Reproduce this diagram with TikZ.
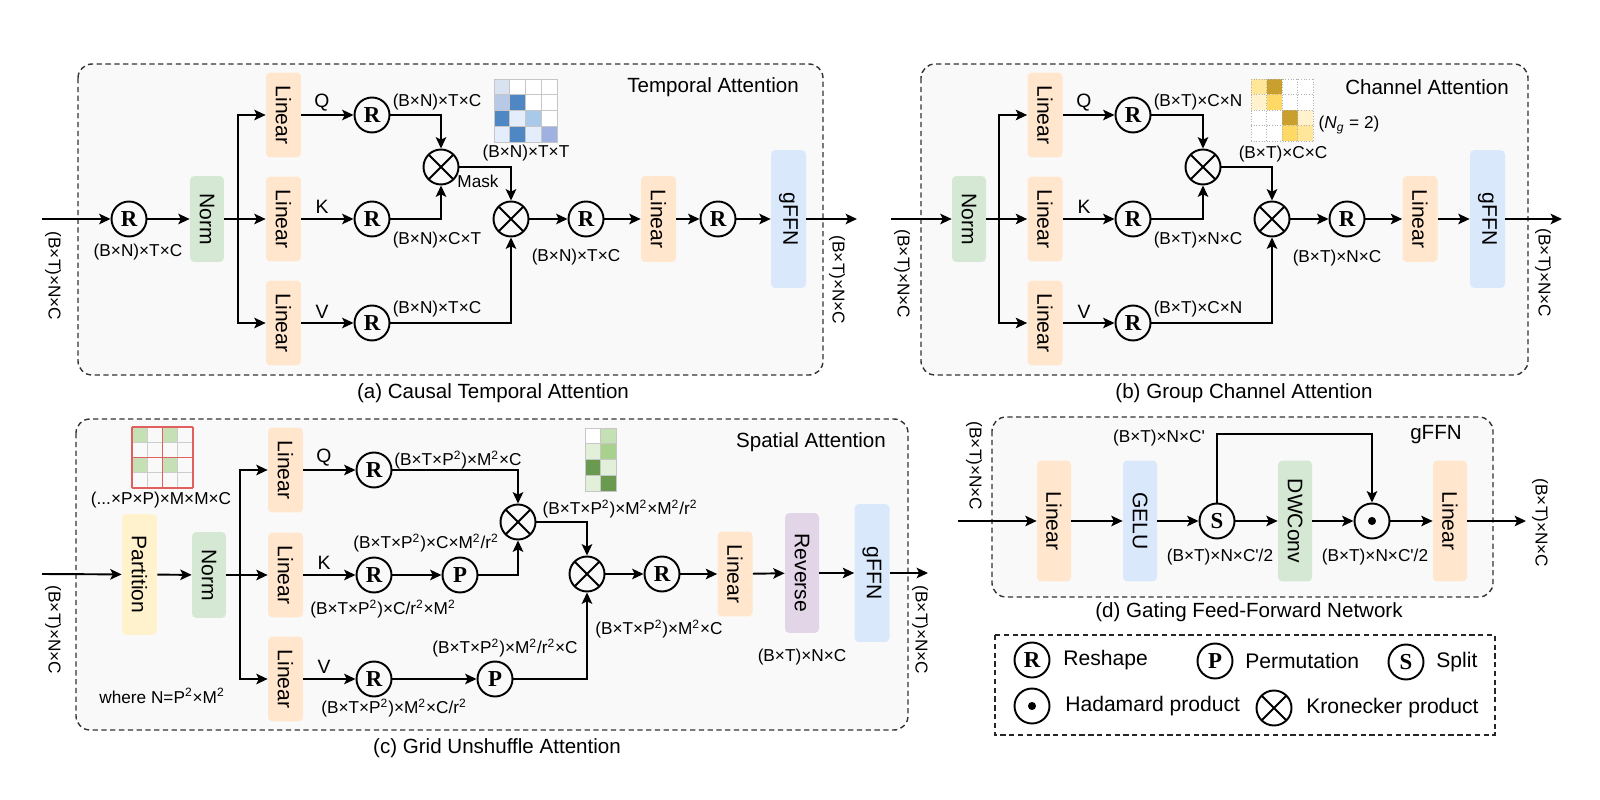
\documentclass[tikz,border=0pt]{standalone}
\usepackage{fontspec}
\setmainfont{Liberation Sans}
\newfontfamily\letterfont{Liberation Serif}
\usepackage{tikz}
\usepackage{xcolor}
\usepackage{graphicx}
\usetikzlibrary{arrows.meta}

\definecolor{linfill}{HTML}{FFE6CC}
\definecolor{normfill}{HTML}{D5E8D4}
\definecolor{ffnfill}{HTML}{DAE8FC}
\definecolor{partfill}{HTML}{FFF2CC}
\definecolor{revfill}{HTML}{E1D5E7}
\definecolor{panelfill}{HTML}{F9F9F9}
\definecolor{mA0}{HTML}{E3EDFB}
\definecolor{mA1}{HTML}{D9E2F1}
\definecolor{mA2}{HTML}{B8C9E8}
\definecolor{mA3}{HTML}{A8C9EA}
\definecolor{mA4}{HTML}{4F87C5}
\definecolor{mA5}{HTML}{9EB1E0}
\definecolor{yB0}{HTML}{FFE699}
\definecolor{yB1}{HTML}{C9A02D}
\definecolor{yB2}{HTML}{FFF2CC}
\definecolor{yB3}{HTML}{FFD966}
\definecolor{gC}{HTML}{C5E0B4}
\definecolor{gD0}{HTML}{E2F0D9}
\definecolor{gD1}{HTML}{C5E0B4}
\definecolor{gD2}{HTML}{A9D18E}
\definecolor{gD3}{HTML}{6A9A4F}
\definecolor{gridred}{HTML}{E06060}

\newcommand{\vt}[1]{\rotatebox{-90}{#1}}
\newcommand{\sq}{\textsuperscript{2}}

\tikzset{
	blk/.style={rectangle, rounded corners=2.5pt, inner sep=0pt, font=\fontsize{12}{14}\selectfont},
	lin/.style={blk, fill=linfill, minimum width=0.7cm, minimum height=1.7cm},
	nrm/.style={blk, fill=normfill, minimum width=0.68cm, minimum height=1.72cm},
	ffn/.style={blk, fill=ffnfill, minimum width=0.7cm, minimum height=2.76cm},
	dblk/.style={blk, minimum width=0.68cm, minimum height=2.42cm},
	op/.style={circle, draw, line width=1.1pt, minimum size=0.7cm, inner sep=0pt, font=\letterfont\bfseries\fontsize{13}{13}\selectfont},
	kron/.style={op, path picture={\draw[line width=1.1pt] (path picture bounding box.north west) -- (path picture bounding box.south east) (path picture bounding box.north east) -- (path picture bounding box.south west);}},
	hada/.style={op, path picture={\fill (path picture bounding box.center) circle (2.3pt);}},
	dim/.style={font=\fontsize{9.8}{11}\selectfont, inner sep=1pt},
	vdim/.style={dim, rotate=-90},
	qkv/.style={font=\fontsize{11}{13}\selectfont, inner sep=1pt},
	ttl/.style={font=\fontsize{11.7}{14}\selectfont, inner sep=1pt},
	leg/.style={font=\fontsize{12}{14}\selectfont, anchor=west, inner sep=0pt},
	frm/.style={draw=black!80, dash pattern=on 3pt off 2pt, line width=0.8pt, rounded corners=8pt, fill=panelfill},
	arr/.style={-{Stealth[length=6.5pt,width=6pt,inset=1.5pt]}, line width=1.1pt},
	ln/.style={line width=1.1pt}
}

\begin{document}
\begin{tikzpicture}[x=0.02cm, y=-0.02cm]
	\useasboundingbox (0,0) rectangle (1600,800);

	% (a) temporal attention, rahmen
	\draw[frm] (78,64) rectangle (823,375);
	\node[ttl] (titA) at (713,87) {Temporal Attention};
	\node[ttl] (capA) at (493,393) {(a) Causal Temporal Attention};
	% eingang und norm
	\coordinate (inA) at (42,219);
	\node[vdim] (dInA) at (53,276) {(B×T)×N×C};
	\node[op] (rA1) at (129,219) {R};
	\node[dim] (dA1) at (138,252) {(B×N)×T×C};
	\node[nrm] (normA) at (207,219) {\vt{Norm}};
	\coordinate (brA) at (238,219);
	% q, k, v
	\node[lin] (linAq) at (283.5,115) {\vt{Linear}};
	\node[lin] (linAk) at (283.5,219) {\vt{Linear}};
	\node[lin] (linAv) at (283.5,323) {\vt{Linear}};
	\node[qkv] (qA) at (322,103) {Q};
	\node[qkv] (kA) at (322,207) {K};
	\node[qkv] (vA) at (322,312) {V};
	\node[op] (rAq) at (372,115) {R};
	\node[op] (rAk) at (372,219) {R};
	\node[op] (rAv) at (372,323) {R};
	\node[dim] (dAq) at (437,102) {(B×N)×T×C};
	\node[dim] (dAk) at (437,240) {(B×N)×C×T};
	\node[dim] (dAv) at (437,309) {(B×N)×T×C};
	\node[kron] (kA1) at (441,167) {};
	\node[dim] (mask) at (478,181) {Mask};
	\node[kron] (kA2) at (511,219) {};
	\node[dim] (dAm) at (526,153) {(B×N)×T×T};
	% ausgang
	\node[op] (rA2) at (586,219) {R};
	\node[dim] (dA2) at (576,257) {(B×N)×T×C};
	\node[lin, minimum height=1.72cm] (linA2) at (658.5,219) {\vt{Linear}};
	\node[op] (rA3) at (718,219) {R};
	\node[ffn] (ffnA) at (788.5,219) {\vt{gFFN}};
	\coordinate (outA) at (857,219);
	\node[vdim] (dOutA) at (837,280) {(B×T)×N×C};
	% pfeile
	\draw[arr] (inA) -- (rA1);
	\draw[arr] (rA1) -- (normA);
	\draw[ln] (normA) -- (brA);
	\draw[arr] (brA) |- (linAq);
	\draw[arr] (brA) -- (linAk);
	\draw[arr] (brA) |- (linAv);
	\draw[arr] (linAq) -- (rAq);
	\draw[arr] (linAk) -- (rAk);
	\draw[arr] (linAv) -- (rAv);
	\draw[arr] (rAq) -| (kA1);
	\draw[arr] (rAk) -| (kA1);
	\draw[arr] (kA1) -| (kA2);
	\draw[arr] (rAv) -| (kA2);
	\draw[arr] (kA2) -- (rA2);
	\draw[arr] (rA2) -- (linA2);
	\draw[arr] (linA2) -- (rA3);
	\draw[arr] (rA3) -- (ffnA);
	\draw[arr] (ffnA) -- (outA);
	% maske
	\foreach \row [count=\j from 0] in {{mA1,white,white,white},{mA2,mA4,white,white},{mA4,mA0,mA3,white},{mA0,mA4,mA0,mA5}}
		\foreach \col [count=\i from 0] in \row
			\filldraw[fill=\col, draw=gray!45, line width=0.4pt] ({494+\i*15.75},{79+\j*15.75}) rectangle ++(15.75,15.75);

	% (b) channel attention, rahmen
	\draw[frm] (921,64) rectangle (1528,375);
	\node[ttl] (titB) at (1427,87) {Channel Attention};
	\node[ttl] (capB) at (1244,393) {(b) Group Channel Attention};
	\coordinate (inB) at (891,219);
	\node[vdim] (dInB) at (902,274) {(B×T)×N×C};
	\node[nrm] (normB) at (969,219) {\vt{Norm}};
	\coordinate (brB) at (999,219);
	% q, k, v
	\node[lin] (linBq) at (1045,115) {\vt{Linear}};
	\node[lin] (linBk) at (1045,219) {\vt{Linear}};
	\node[lin] (linBv) at (1045,323) {\vt{Linear}};
	\node[qkv] (qB) at (1084,103) {Q};
	\node[qkv] (kB) at (1084,207) {K};
	\node[qkv] (vB) at (1084,312) {V};
	\node[op] (rBq) at (1133,115) {R};
	\node[op] (rBk) at (1133,219) {R};
	\node[op] (rBv) at (1133,323) {R};
	\node[dim] (dBq) at (1198,102) {(B×T)×C×N};
	\node[dim] (dBk) at (1198,240) {(B×T)×N×C};
	\node[dim] (dBv) at (1198,309) {(B×T)×C×N};
	\node[kron] (kB1) at (1203,167) {};
	\node[kron] (kB2) at (1272,219) {};
	\node[dim] (dBm) at (1283,154) {(B×T)×C×C};
	\node[dim] (ngB) at (1349,125) {({\itshape N}\textsubscript{\itshape g} = 2)};
	% ausgang
	\node[op] (rB2) at (1347,219) {R};
	\node[dim] (dB2) at (1337,258) {(B×T)×N×C};
	\node[lin, minimum height=1.72cm] (linB2) at (1420,219) {\vt{Linear}};
	\node[ffn] (ffnB) at (1487.5,219) {\vt{gFFN}};
	\coordinate (outB) at (1562,219);
	\node[vdim] (dOutB) at (1543,273) {(B×T)×N×C};
	% pfeile
	\draw[arr] (inB) -- (normB);
	\draw[ln] (normB) -- (brB);
	\draw[arr] (brB) |- (linBq);
	\draw[arr] (brB) -- (linBk);
	\draw[arr] (brB) |- (linBv);
	\draw[arr] (linBq) -- (rBq);
	\draw[arr] (linBk) -- (rBk);
	\draw[arr] (linBv) -- (rBv);
	\draw[arr] (rBq) -| (kB1);
	\draw[arr] (rBk) -| (kB1);
	\draw[arr] (kB1) -| (kB2);
	\draw[arr] (rBv) -| (kB2);
	\draw[arr] (kB2) -- (rB2);
	\draw[arr] (rB2) -- (linB2);
	\draw[arr] (linB2) -- (ffnB);
	\draw[arr] (ffnB) -- (outB);
	% gruppen matrix
	\foreach \row [count=\j from 0] in {{yB0,yB1,white,white},{yB2,yB3,white,white},{white,white,yB1,yB2},{white,white,yB3,yB0}}
		\foreach \col [count=\i from 0] in \row
			\fill[\col] ({1251+\i*15.5},{79+\j*15.5}) rectangle ++(15.5,15.5);
	\foreach \k in {0,...,4}
		\draw[gray!60, densely dotted, line width=0.5pt] ({1251+\k*15.5},79) -- ++(0,62) (1251,{79+\k*15.5}) -- ++(62,0);

	% (c) spatial attention, rahmen
	\draw[frm] (76,419) rectangle (908,730);
	\node[ttl] (titC) at (811,442) {Spatial Attention};
	\node[ttl] (capC) at (497,748) {(c) Grid Unshuffle Attention};
	\coordinate (inC) at (42,574);
	\node[vdim] (dInC) at (53,630) {(B×T)×N×C};
	\node[dblk, fill=partfill, minimum width=0.7cm] (partC) at (139.5,574.5) {\vt{Partition}};
	\node[dim] (dCp) at (161,500) {(...×P×P)×M×M×C};
	\node[dim] (dCw) at (162,696) {where N=P\sq×M\sq};
	\node[nrm] (normC) at (209,575) {\vt{Norm}};
	\coordinate (brC) at (240,575);
	% q, k, v
	\node[lin] (linCq) at (285.5,470) {\vt{Linear}};
	\node[lin] (linCk) at (285.5,575) {\vt{Linear}};
	\node[lin] (linCv) at (285.5,679) {\vt{Linear}};
	\node[qkv] (qC) at (324,458) {Q};
	\node[qkv] (kC) at (324,563) {K};
	\node[qkv] (vC) at (324,667) {V};
	\node[op] (rCq) at (374,470) {R};
	\node[op] (rCk) at (374,575) {R};
	\node[op] (rCv) at (374,679) {R};
	\node[op] (pCk) at (460,575) {P};
	\node[op] (pCv) at (495,679) {P};
	\node[dim] (dCq) at (458,460) {(B×T×P\sq)×M\sq×C};
	\node[dim] (dCk1) at (426,543) {(B×T×P\sq)×C×M\sq/r\sq};
	\node[dim] (dCk2) at (383,609) {(B×T×P\sq)×C/r\sq×M\sq};
	\node[dim] (dCv1) at (505,648) {(B×T×P\sq)×M\sq/r\sq×C};
	\node[dim] (dCv2) at (394,708) {(B×T×P\sq)×M\sq×C/r\sq};
	\node[kron] (kC1) at (518,522) {};
	\node[kron] (kC2) at (587,574) {};
	\node[dim] (dCm) at (620,509) {(B×T×P\sq)×M\sq×M\sq/r\sq};
	% ausgang
	\node[op] (rC2) at (662,574) {R};
	\node[dim] (dC2) at (659,629) {(B×T×P\sq)×M\sq×C};
	\node[lin] (linC2) at (735,574) {\vt{Linear}};
	\node[dblk, fill=revfill, minimum height=2.4cm] (revC) at (802,573) {\vt{Reverse}};
	\node[dim] (dCr) at (802,657) {(B×T)×N×C};
	\node[ffn] (ffnC) at (872,573) {\vt{gFFN}};
	\coordinate (outC) at (928,573);
	\node[vdim] (dOutC) at (920,630) {(B×T)×N×C};
	% pfeile
	\draw[arr] (inC) -- (partC);
	\draw[arr] (partC) -- (normC);
	\draw[ln] (normC) -- (brC);
	\draw[arr] (brC) |- (linCq);
	\draw[arr] (brC) -- (linCk);
	\draw[arr] (brC) |- (linCv);
	\draw[arr] (linCq) -- (rCq);
	\draw[arr] (linCk) -- (rCk);
	\draw[arr] (linCv) -- (rCv);
	\draw[arr] (rCk) -- (pCk);
	\draw[arr] (rCv) -- (pCv);
	\draw[arr] (rCq) -| (kC1);
	\draw[arr] (pCk) -| (kC1);
	\draw[arr] (kC1) -| (kC2);
	\draw[arr] (pCv) -| (kC2);
	\draw[arr] (kC2) -- (rC2);
	\draw[arr] (rC2) -- (linC2);
	\draw[arr] (linC2) -- (revC);
	\draw[arr] (revC) -- (ffnC);
	\draw[arr] (ffnC) -- (outC);
	% partition gitter
	\foreach \i/\j in {0/0,2/0,0/2,2/2}
		\fill[gC] ({132+\i*15.25},{427+\j*15.25}) rectangle ++(15.25,15.25);
	\foreach \k in {1,3}
		\draw[gray!40, line width=0.5pt] ({132+\k*15.25},427) -- ++(0,61) (132,{427+\k*15.25}) -- ++(61,0);
	\foreach \k in {0,2,4}
		\draw[gridred, line width=0.8pt] ({132+\k*15.25},427) -- ++(0,61) (132,{427+\k*15.25}) -- ++(61,0);
	% attention matrix
	\foreach \row [count=\j from 0] in {{white,gD1},{gD0,gD2},{gD3,gD0},{gD0,gD3}}
		\foreach \col [count=\i from 0] in \row
			\filldraw[fill=\col, draw=gray!45, line width=0.4pt] ({585+\i*15.5},{428+\j*15.75}) rectangle ++(15.5,15.75);

	% (d) gffn, rahmen
	\draw[frm] (992,417) rectangle (1493,597);
	\node[ttl] (titD) at (1436,435) {gFFN};
	\node[ttl] (capD) at (1249,612) {(d) Gating Feed-Forward Network};
	\coordinate (inD) at (958,521);
	\node[vdim] (dInD) at (974,466) {(B×T)×N×C};
	\node[dblk, fill=linfill] (linD1) at (1054,521) {\vt{Linear}};
	\node[dblk, fill=ffnfill] (geluD) at (1140,521) {\vt{GELU}};
	\node[op] (sD) at (1217,521) {S};
	\node[dblk, fill=normfill] (dwD) at (1295,521) {\vt{DWConv}};
	\node[hada] (hD) at (1372,521) {};
	\node[dblk, fill=linfill] (linD2) at (1450,521) {\vt{Linear}};
	\coordinate (outD) at (1526,521);
	\node[vdim] (dOutD) at (1540,523) {(B×T)×N×C};
	\coordinate (skD) at (1217,434);
	\node[dim] (dDs) at (1159,438) {(B×T)×N×C\textquotesingle};
	\node[dim] (dD1) at (1220,557) {(B×T)×N×C\textquotesingle/2};
	\node[dim] (dD2) at (1375,557) {(B×T)×N×C\textquotesingle/2};
	% pfeile
	\draw[arr] (inD) -- (linD1);
	\draw[arr] (linD1) -- (geluD);
	\draw[arr] (geluD) -- (sD);
	\draw[arr] (sD) -- (dwD);
	\draw[arr] (dwD) -- (hD);
	\draw[arr] (hD) -- (linD2);
	\draw[arr] (linD2) -- (outD);
	\draw[arr] (sD) -- (skD) -| (hD);

	% legende
	\draw[draw=black!85, dash pattern=on 3pt off 2pt, line width=0.9pt] (995,635) rectangle (1495,735);
	\node[op] (lgR) at (1032,660) {R};
	\node[leg] (lgRt) at (1063,660) {Reshape};
	\node[op] (lgP) at (1215,661) {P};
	\node[leg] (lgPt) at (1245,661) {Permutation};
	\node[op] (lgS) at (1406,662) {S};
	\node[leg] (lgSt) at (1436,662) {Split};
	\node[hada] (lgH) at (1032,706) {};
	\node[leg] (lgHt) at (1065,706) {Hadamard product};
	\node[kron] (lgK) at (1274,708) {};
	\node[leg] (lgKt) at (1306,708) {Kronecker product};
\end{tikzpicture}
\end{document}
